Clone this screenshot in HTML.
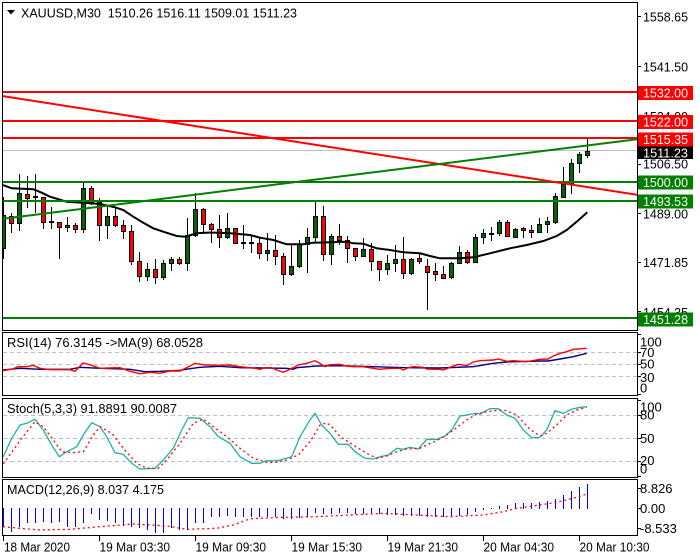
<!DOCTYPE html>
<html><head><meta charset="utf-8"><style>
html,body{margin:0;padding:0;background:#fff;}
svg{display:block;}
text{font-family:"Liberation Sans",Arial,sans-serif;font-size:13px;fill:#000;}
.w{fill:#fff;}
.g{fill:#006400;stroke:#000;stroke-width:1;}
.r{fill:#ff0000;stroke:#000;stroke-width:1;}
.d{fill:#000;stroke:#000;stroke-width:1;}
.wk line{stroke:#000;stroke-width:1;}
.mb rect{fill:#0000ff;}
</style></head><body>
<svg width="700" height="560" viewBox="0 0 700 560" xmlns="http://www.w3.org/2000/svg">
<defs>
<clipPath id="cm"><rect x="3" y="3" width="634" height="327"/></clipPath>
<clipPath id="cr"><rect x="3" y="333" width="634" height="62"/></clipPath>
<clipPath id="cs"><rect x="3" y="399" width="634" height="78"/></clipPath>
<clipPath id="cd"><rect x="3" y="480" width="634" height="55"/></clipPath>
</defs>
<rect width="700" height="560" fill="#fff"/>

<!-- MAIN PANEL -->
<g clip-path="url(#cm)">
<line x1="3" y1="150.5" x2="637" y2="150.5" stroke="#c0c0c0" stroke-width="1"/>
<g class="wk">
<line x1="3.5" y1="197" x2="3.5" y2="259"/><line x1="11.5" y1="213" x2="11.5" y2="233"/><line x1="19.5" y1="174" x2="19.5" y2="231"/><line x1="27.5" y1="176" x2="27.5" y2="208"/><line x1="35.5" y1="174" x2="35.5" y2="213"/><line x1="43.5" y1="197" x2="43.5" y2="229"/><line x1="51.5" y1="207" x2="51.5" y2="229"/><line x1="59.5" y1="222" x2="59.5" y2="259"/><line x1="67.5" y1="217" x2="67.5" y2="232"/><line x1="75.5" y1="223" x2="75.5" y2="233"/>
<line x1="83.5" y1="181" x2="83.5" y2="233"/><line x1="91.5" y1="186" x2="91.5" y2="205"/><line x1="99.5" y1="198" x2="99.5" y2="241"/><line x1="107.5" y1="205" x2="107.5" y2="239"/><line x1="115.5" y1="207" x2="115.5" y2="227"/><line x1="123.5" y1="220" x2="123.5" y2="239"/><line x1="131.5" y1="225" x2="131.5" y2="265"/><line x1="139.5" y1="252" x2="139.5" y2="282"/><line x1="147.5" y1="263" x2="147.5" y2="281"/><line x1="155.5" y1="259" x2="155.5" y2="284"/>
<line x1="163.5" y1="260" x2="163.5" y2="280"/><line x1="171.5" y1="257" x2="171.5" y2="271"/><line x1="179.5" y1="257" x2="179.5" y2="265"/><line x1="187.5" y1="218" x2="187.5" y2="271"/><line x1="195.5" y1="193" x2="195.5" y2="237"/><line x1="203.5" y1="208" x2="203.5" y2="233"/><line x1="211.5" y1="223" x2="211.5" y2="243"/><line x1="219.5" y1="215" x2="219.5" y2="248"/><line x1="227.5" y1="213" x2="227.5" y2="239"/><line x1="235.5" y1="228" x2="235.5" y2="244"/>
<line x1="243.5" y1="225" x2="243.5" y2="249"/><line x1="251.5" y1="235" x2="251.5" y2="253"/><line x1="259.5" y1="238" x2="259.5" y2="259"/><line x1="267.5" y1="233" x2="267.5" y2="261"/><line x1="275.5" y1="235" x2="275.5" y2="265"/><line x1="283.5" y1="253" x2="283.5" y2="285"/><line x1="291.5" y1="245" x2="291.5" y2="276"/><line x1="299.5" y1="240" x2="299.5" y2="268"/><line x1="307.5" y1="228" x2="307.5" y2="273"/><line x1="315.5" y1="202" x2="315.5" y2="243"/>
<line x1="323.5" y1="206" x2="323.5" y2="261"/><line x1="331.5" y1="234" x2="331.5" y2="265"/><line x1="339.5" y1="224" x2="339.5" y2="245"/><line x1="347.5" y1="236" x2="347.5" y2="263"/><line x1="355.5" y1="248" x2="355.5" y2="261"/><line x1="363.5" y1="238" x2="363.5" y2="257"/><line x1="371.5" y1="243" x2="371.5" y2="271"/><line x1="379.5" y1="261" x2="379.5" y2="281"/><line x1="387.5" y1="255" x2="387.5" y2="275"/><line x1="395.5" y1="245" x2="395.5" y2="272"/>
<line x1="403.5" y1="237" x2="403.5" y2="279"/><line x1="411.5" y1="258" x2="411.5" y2="275"/><line x1="419.5" y1="253" x2="419.5" y2="264"/><line x1="427.5" y1="259" x2="427.5" y2="310"/><line x1="435.5" y1="263" x2="435.5" y2="281"/><line x1="443.5" y1="266" x2="443.5" y2="278"/><line x1="451.5" y1="262" x2="451.5" y2="279"/><line x1="459.5" y1="246" x2="459.5" y2="264"/><line x1="467.5" y1="250" x2="467.5" y2="264"/><line x1="475.5" y1="234" x2="475.5" y2="262"/>
<line x1="483.5" y1="229" x2="483.5" y2="244"/><line x1="491.5" y1="227" x2="491.5" y2="241"/><line x1="499.5" y1="220" x2="499.5" y2="236"/><line x1="507.5" y1="220" x2="507.5" y2="237"/><line x1="515.5" y1="228" x2="515.5" y2="238"/><line x1="523.5" y1="227" x2="523.5" y2="238"/><line x1="531.5" y1="225" x2="531.5" y2="238"/><line x1="539.5" y1="218" x2="539.5" y2="233"/><line x1="547.5" y1="217" x2="547.5" y2="233"/><line x1="555.5" y1="193" x2="555.5" y2="224"/>
<line x1="563.5" y1="167" x2="563.5" y2="198"/><line x1="571.5" y1="159" x2="571.5" y2="194"/><line x1="579.5" y1="152" x2="579.5" y2="173"/><line x1="587.5" y1="137" x2="587.5" y2="158"/>
</g>
<rect x="1.5" y="215.5" width="4" height="33" class="g"/><rect x="9.5" y="216.5" width="4" height="7" class="r"/><rect x="17.5" y="193.5" width="4" height="30" class="g"/><rect x="25.5" y="194.5" width="4" height="4" class="r"/><rect x="33.5" y="196.5" width="4" height="1" class="d"/><rect x="41.5" y="197.5" width="4" height="25" class="r"/><rect x="49.5" y="221.5" width="4" height="1" class="d"/><rect x="57.5" y="222.5" width="4" height="5" class="r"/><rect x="65.5" y="225.5" width="4" height="2" class="g"/><rect x="73.5" y="225.5" width="4" height="4" class="r"/>
<rect x="81.5" y="188.5" width="4" height="41" class="g"/><rect x="89.5" y="188.5" width="4" height="14" class="r"/><rect x="97.5" y="202.5" width="4" height="23" class="r"/><rect x="105.5" y="216.5" width="4" height="9" class="g"/><rect x="113.5" y="216.5" width="4" height="9" class="r"/><rect x="121.5" y="225.5" width="4" height="6" class="r"/><rect x="129.5" y="231.5" width="4" height="30" class="r"/><rect x="137.5" y="261.5" width="4" height="15" class="r"/><rect x="145.5" y="269.5" width="4" height="7" class="g"/><rect x="153.5" y="269.5" width="4" height="8" class="r"/>
<rect x="161.5" y="263.5" width="4" height="14" class="g"/><rect x="169.5" y="259.5" width="4" height="4" class="g"/><rect x="177.5" y="259.5" width="4" height="4" class="r"/><rect x="185.5" y="235.5" width="4" height="28" class="g"/><rect x="193.5" y="209.5" width="4" height="26" class="g"/><rect x="201.5" y="209.5" width="4" height="15" class="r"/><rect x="209.5" y="224.5" width="4" height="5" class="r"/><rect x="217.5" y="229.5" width="4" height="8" class="r"/><rect x="225.5" y="228.5" width="4" height="9" class="g"/><rect x="233.5" y="228.5" width="4" height="15" class="r"/>
<rect x="241.5" y="242.5" width="4" height="1" class="d"/><rect x="249.5" y="242.5" width="4" height="1" class="d"/><rect x="257.5" y="243.5" width="4" height="10" class="r"/><rect x="265.5" y="250.5" width="4" height="3" class="g"/><rect x="273.5" y="250.5" width="4" height="6" class="r"/><rect x="281.5" y="256.5" width="4" height="18" class="r"/><rect x="289.5" y="266.5" width="4" height="8" class="g"/><rect x="297.5" y="244.5" width="4" height="22" class="g"/><rect x="305.5" y="237.5" width="4" height="7" class="g"/><rect x="313.5" y="216.5" width="4" height="21" class="g"/>
<rect x="321.5" y="216.5" width="4" height="38" class="r"/><rect x="329.5" y="236.5" width="4" height="18" class="g"/><rect x="337.5" y="236.5" width="4" height="4" class="r"/><rect x="345.5" y="240.5" width="4" height="8" class="r"/><rect x="353.5" y="248.5" width="4" height="8" class="r"/><rect x="361.5" y="249.5" width="4" height="7" class="g"/><rect x="369.5" y="249.5" width="4" height="12" class="r"/><rect x="377.5" y="261.5" width="4" height="8" class="r"/><rect x="385.5" y="263.5" width="4" height="6" class="g"/><rect x="393.5" y="259.5" width="4" height="4" class="g"/>
<rect x="401.5" y="259.5" width="4" height="14" class="r"/><rect x="409.5" y="259.5" width="4" height="14" class="g"/><rect x="417.5" y="258.5" width="4" height="3" class="r"/><rect x="425.5" y="266.5" width="4" height="6" class="r"/><rect x="433.5" y="271.5" width="4" height="3" class="r"/><rect x="441.5" y="274.5" width="4" height="4" class="r"/><rect x="449.5" y="263.5" width="4" height="14" class="g"/><rect x="457.5" y="252.5" width="4" height="11" class="g"/><rect x="465.5" y="252.5" width="4" height="10" class="r"/><rect x="473.5" y="237.5" width="4" height="25" class="g"/>
<rect x="481.5" y="233.5" width="4" height="4" class="g"/><rect x="489.5" y="233.5" width="4" height="1" class="d"/><rect x="497.5" y="222.5" width="4" height="11" class="g"/><rect x="505.5" y="222.5" width="4" height="14" class="r"/><rect x="513.5" y="229.5" width="4" height="8" class="g"/><rect x="521.5" y="228.5" width="4" height="2" class="r"/><rect x="529.5" y="230.5" width="4" height="2" class="r"/><rect x="537.5" y="224.5" width="4" height="8" class="g"/><rect x="545.5" y="221.5" width="4" height="3" class="g"/><rect x="553.5" y="196.5" width="4" height="26" class="g"/>
<rect x="561.5" y="184.5" width="4" height="13" class="g"/><rect x="569.5" y="163.5" width="4" height="21" class="g"/><rect x="577.5" y="154.5" width="4" height="9" class="g"/><rect x="585.5" y="151.5" width="4" height="4" class="g"/>

<!-- MA -->
<polyline fill="none" stroke="#000" stroke-width="2" points="3,185 11.7,188.3 33.3,189.3 41.7,192.7 50,196.7 66.7,201.7 83.3,202.7 100,204 115,207.3 123.3,210 133.3,216.7 143.3,222.7 153.3,228.3 163.3,231.7 176.7,236 185,236.7 196.7,233.3 210,232.5 230,233.3 250,235 260,237.7 273.3,240 286.7,244.3 303.3,244.3 313.3,242.7 330,242.3 346.7,241.7 353.3,243.3 363.3,243.7 376.7,248.3 390,250 403.3,252.3 420,253.3 430,256 440,258.3 460,258.3 473.3,257.3 490,253.3 510,248.3 526.7,245 543.3,241 556.7,236 566.7,230 576.7,221.7 587.3,212.3"/>

<!-- horizontal lines -->
<rect x="3" y="91" width="634" height="2" fill="#ff0000"/>
<rect x="3" y="120" width="634" height="2" fill="#ff0000"/>
<rect x="3" y="137" width="634" height="2" fill="#ff0000"/>
<rect x="3" y="181" width="634" height="2" fill="#008000"/>
<rect x="3" y="200" width="634" height="2" fill="#008000"/>
<rect x="3" y="317" width="634" height="2" fill="#008000"/>
<!-- trend lines -->
<line x1="2" y1="96" x2="637" y2="194.8" stroke="#ff0000" stroke-width="2"/>
<line x1="3" y1="218.8" x2="637" y2="139.2" stroke="#008000" stroke-width="2"/>
</g>

<!-- header -->
<polygon points="7,10 15,10 11,14.5" fill="#000"/>
<text x="21" y="17.3" textLength="276" lengthAdjust="spacingAndGlyphs" style="white-space:pre">XAUUSD,M30  1510.26 1516.11 1509.01 1511.23</text>

<!-- RSI -->
<g clip-path="url(#cr)">
<g stroke="#c0c0c0" stroke-width="1" stroke-dasharray="4,3">
<line x1="3" y1="352.5" x2="637" y2="352.5"/><line x1="3" y1="364.5" x2="637" y2="364.5"/><line x1="3" y1="376.5" x2="637" y2="376.5"/>
</g>
<polyline fill="none" stroke="#000080" stroke-width="1.4" points="3,370 20,368.3 40,369.3 70,369.3 80,367.3 100,368.3 130,369.3 145,371.7 160,371.3 180,370.3 190,368.7 200,367.3 220,366.3 240,367.7 286.7,368.3 293.3,369.3 296.7,367.7 316.7,366 340,365.7 373.3,366.7 406.7,367.7 440,368 473.3,366.7 493.3,363.3 506.7,362 540,361 548.3,361 560,359 573.3,356.7 586.7,353.3"/>
<polyline fill="none" stroke="#ff0000" stroke-width="1.4" points="3,370.7 13,369 18,366.7 27,366.7 33,365.3 40,368.3 50,369.7 70,369.7 75,371.3 83,363 90,364.7 100,368.3 110,368 120,367.7 130,371.3 140,373.7 150,372.3 160,373.3 170,371 180,371 190,366 195,363.3 205,365 220,365.3 230,365 240,366.7 255,368.3 260,369.3 265,367.7 271.7,367.7 276.7,370 283.3,372.3 290,369.3 298.3,365 306.7,363.3 315,360.7 320,363.3 325,366.7 330,364.7 340,364.3 346.7,366 353.3,366.7 363.3,366.7 373.3,368.3 380,369.3 390,368.3 400,368.3 403.3,370 408.3,367.7 413.3,366.7 423.3,367.3 426.7,369 440,369.3 443.3,370 450,367.3 458.3,364.3 466.7,365.7 473.3,362 480,360.7 493.3,360 498.3,359 506.7,361.3 513.3,360.7 526.7,361.7 540,359.3 548.3,359 553.3,356 560,353.3 566.7,351.7 573.3,349.3 586.7,348.3"/>
</g>
<text x="7" y="347" textLength="196" lengthAdjust="spacingAndGlyphs">RSI(14) 76.3145 ->MA(9) 68.0528</text>

<!-- Stoch -->
<g clip-path="url(#cs)">
<g stroke="#c0c0c0" stroke-width="1" stroke-dasharray="4,3">
<line x1="3" y1="415.5" x2="637" y2="415.5"/><line x1="3" y1="438.5" x2="637" y2="438.5"/><line x1="3" y1="461.5" x2="637" y2="461.5"/>
</g>
<polyline fill="none" stroke="#20b2aa" stroke-width="1.3" points="3.3,456.7 11.7,438.3 20,425 26.7,423.3 35,419.3 43.3,430 51.7,445 59.3,456.7 66.7,451.7 76.7,446.7 83.3,435 91.7,422.7 100,426.7 106.7,436.7 115,452.7 123.3,454.3 131.7,463.3 140,469 155,468.3 163.3,460 173.3,448.3 181.7,430 188.3,417.7 200,418.3 210,426.7 218.3,436.7 230,443.3 240,456.7 251.7,463.3 260,463.3 266.7,460.7 273.3,461 280,460 291.7,456.7 300,436.7 310,420 315,413.3 321.7,425 330,433.3 338.3,444.3 348.3,444.3 355,451.7 365,458.3 373.3,459 380,456.7 388.3,455 396.7,448.3 403.3,449.3 410,447.3 418.3,449 426.7,439.3 436.7,439.3 445,436 451.7,430 460,416 466.7,415 475,413.3 480,414 490,408.7 498.3,408.7 506.7,415 515,418.3 523.3,430 531.7,437.7 540,437.3 546.7,430 555,410.7 563.3,413.3 571.7,409.3 578.3,407.7 586.7,406.7"/>
<polyline fill="none" stroke="#ff0000" stroke-width="1.3" stroke-dasharray="2,3" points="3.3,464 13.3,450 21.7,438.3 35,421.7 43.3,426.7 53.3,440 61.7,451.7 73.3,452.7 83.3,451.7 93.3,435 100,426.7 111.7,433.3 123.3,448.3 136.7,463.3 146.7,468.3 158.3,468.3 166.7,460 180,443.3 193.3,423.3 203.3,419 213.3,426.7 226.7,436.7 240,448.3 253.3,458.3 266.7,462.3 276.7,462.3 286.7,460 298.3,455 310,441.7 320,425 326.7,422.7 333.3,428.3 340,436.7 353.3,445 366.7,453.3 376.7,458.3 386.7,456 396.7,451.7 406.7,449 420,448.3 426.7,445 436.7,440.7 446.7,435 456.7,427.7 466.7,420 476.7,414 486.7,411.7 500,410 506.7,410.7 516.7,415 530,429.3 540,436 546.7,433.3 556.7,425 566.7,415 576.7,410 586.7,407.3"/>
</g>
<text x="7" y="413" textLength="170" lengthAdjust="spacingAndGlyphs">Stoch(5,3,3) 91.8891 90.0087</text>

<!-- MACD -->
<g clip-path="url(#cd)">
<g class="mb" shape-rendering="crispEdges">
<rect x="3" y="508" width="1" height="19"/><rect x="11" y="508" width="1" height="24"/><rect x="19" y="508" width="1" height="19"/><rect x="27" y="508" width="1" height="15"/><rect x="35" y="508" width="1" height="15"/><rect x="43" y="508" width="1" height="14"/><rect x="51" y="508" width="1" height="15"/><rect x="59" y="508" width="1" height="14"/><rect x="67" y="508" width="1" height="19"/><rect x="75" y="508" width="1" height="19"/>
<rect x="83" y="508" width="1" height="15"/><rect x="91" y="508" width="1" height="6"/><rect x="99" y="508" width="1" height="12"/><rect x="107" y="508" width="1" height="13"/><rect x="115" y="508" width="1" height="15"/><rect x="123" y="508" width="1" height="18"/><rect x="131" y="508" width="1" height="19"/><rect x="139" y="508" width="1" height="20"/><rect x="147" y="508" width="1" height="22"/><rect x="155" y="508" width="1" height="25"/>
<rect x="163" y="508" width="1" height="25"/><rect x="171" y="508" width="1" height="20"/><rect x="179" y="508" width="1" height="22"/><rect x="187" y="508" width="1" height="22"/><rect x="195" y="508" width="1" height="15"/><rect x="203" y="508" width="1" height="15"/><rect x="211" y="508" width="1" height="9"/><rect x="219" y="508" width="1" height="9"/><rect x="227" y="508" width="1" height="8"/><rect x="235" y="508" width="1" height="9"/>
<rect x="243" y="508" width="1" height="9"/><rect x="251" y="508" width="1" height="9"/><rect x="259" y="508" width="1" height="9"/><rect x="267" y="508" width="1" height="9"/><rect x="275" y="508" width="1" height="9"/><rect x="283" y="508" width="1" height="11"/><rect x="291" y="508" width="1" height="11"/><rect x="299" y="508" width="1" height="10"/><rect x="307" y="508" width="1" height="9"/><rect x="315" y="508" width="1" height="5"/>
<rect x="323" y="508" width="1" height="6"/><rect x="331" y="508" width="1" height="6"/><rect x="339" y="508" width="1" height="5"/><rect x="347" y="508" width="1" height="5"/><rect x="355" y="508" width="1" height="6"/><rect x="363" y="508" width="1" height="6"/><rect x="371" y="508" width="1" height="5"/><rect x="379" y="508" width="1" height="6"/><rect x="387" y="508" width="1" height="7"/><rect x="395" y="508" width="1" height="7"/>
<rect x="403" y="508" width="1" height="8"/><rect x="411" y="508" width="1" height="8"/><rect x="419" y="508" width="1" height="8"/><rect x="427" y="508" width="1" height="9"/><rect x="435" y="508" width="1" height="9"/><rect x="443" y="508" width="1" height="9"/><rect x="451" y="508" width="1" height="9"/><rect x="459" y="508" width="1" height="8"/><rect x="467" y="508" width="1" height="7"/><rect x="475" y="508" width="1" height="4"/>
<rect x="483" y="508" width="1" height="2"/><rect x="491" y="508" width="1" height="1"/><rect x="499" y="506" width="1" height="3"/><rect x="507" y="505" width="1" height="4"/><rect x="515" y="503" width="1" height="6"/><rect x="523" y="503" width="1" height="6"/><rect x="531" y="503" width="1" height="6"/><rect x="539" y="502" width="1" height="7"/><rect x="547" y="501" width="1" height="8"/><rect x="555" y="499" width="1" height="10"/>
<rect x="563" y="495" width="1" height="14"/><rect x="571" y="491" width="1" height="18"/><rect x="579" y="487" width="1" height="22"/><rect x="587" y="484" width="1" height="25"/>
</g>
<polyline fill="none" stroke="#ff0000" stroke-width="1.3" stroke-dasharray="2,3" points="3,526.7 20,528.3 40,530 70,529.3 100,526.7 133.3,524 166.7,526 186.7,529.3 216.7,528.3 233.3,525 250,518.8 283.3,517.3 316.7,516.7 350,515 383.3,513.3 416.7,515 450,516.7 483.3,515 503.3,511.7 516.7,508.3 533.3,506 550,503.3 563.3,500.7 576.7,497.3 586.7,494"/>
</g>
<text x="7" y="494" textLength="157" lengthAdjust="spacingAndGlyphs">MACD(12,26,9) 8.037 4.175</text>

<!-- frames -->
<g fill="none" stroke="#000" stroke-width="1">
<rect x="2.5" y="2.5" width="635" height="328"/>
<rect x="2.5" y="332.5" width="635" height="63"/>
<rect x="2.5" y="398.5" width="635" height="79"/>
<rect x="2.5" y="479.5" width="635" height="56"/>
</g>

<!-- right axis ticks -->
<g stroke="#000" stroke-width="1">
<line x1="637" y1="16.5" x2="641" y2="16.5"/><line x1="637" y1="66.5" x2="641" y2="66.5"/><line x1="637" y1="115.5" x2="641" y2="115.5"/><line x1="637" y1="164.5" x2="641" y2="164.5"/><line x1="637" y1="213.5" x2="641" y2="213.5"/><line x1="637" y1="262.5" x2="641" y2="262.5"/><line x1="637" y1="311.5" x2="641" y2="311.5"/>
<line x1="637" y1="334.5" x2="641" y2="334.5"/><line x1="637" y1="352.5" x2="641" y2="352.5"/><line x1="637" y1="364.5" x2="641" y2="364.5"/><line x1="637" y1="376.5" x2="641" y2="376.5"/><line x1="637" y1="394.5" x2="641" y2="394.5"/>
<line x1="637" y1="400.5" x2="641" y2="400.5"/><line x1="637" y1="415.5" x2="641" y2="415.5"/><line x1="637" y1="438.5" x2="641" y2="438.5"/><line x1="637" y1="461.5" x2="641" y2="461.5"/><line x1="637" y1="476.5" x2="641" y2="476.5"/>
<line x1="637" y1="488.5" x2="641" y2="488.5"/><line x1="637" y1="508.5" x2="641" y2="508.5"/><line x1="637" y1="528.5" x2="641" y2="528.5"/>
<line x1="3.5" y1="536" x2="3.5" y2="541"/><line x1="99.5" y1="536" x2="99.5" y2="541"/><line x1="195.5" y1="536" x2="195.5" y2="541"/><line x1="291.5" y1="536" x2="291.5" y2="541"/><line x1="387.5" y1="536" x2="387.5" y2="541"/><line x1="483.5" y1="536" x2="483.5" y2="541"/><line x1="579.5" y1="536" x2="579.5" y2="541"/>
</g>

<!-- price labels -->
<text x="643" y="21.5" textLength="45" lengthAdjust="spacingAndGlyphs">1558.65</text>
<text x="643" y="71.5" textLength="45" lengthAdjust="spacingAndGlyphs">1541.50</text>
<text x="643" y="121" textLength="45" lengthAdjust="spacingAndGlyphs">1524.00</text>
<text x="643" y="168.5" textLength="45" lengthAdjust="spacingAndGlyphs">1506.50</text>
<text x="643" y="218.5" textLength="45" lengthAdjust="spacingAndGlyphs">1489.00</text>
<text x="643" y="267" textLength="45" lengthAdjust="spacingAndGlyphs">1471.85</text>
<text x="643" y="317" textLength="45" lengthAdjust="spacingAndGlyphs">1454.35</text>

<!-- price boxes -->
<rect x="638" y="86" width="55" height="14" fill="#ff0000"/>
<text class="w" x="643" y="97.5" textLength="45" lengthAdjust="spacingAndGlyphs">1532.00</text>
<rect x="638" y="115" width="55" height="14" fill="#ff0000"/>
<text class="w" x="643" y="126.5" textLength="45" lengthAdjust="spacingAndGlyphs">1522.00</text>
<rect x="638" y="132.5" width="55" height="14" fill="#ff0000"/>
<text class="w" x="643" y="144" textLength="45" lengthAdjust="spacingAndGlyphs">1515.35</text>
<rect x="638" y="146.5" width="55" height="12.5" fill="#000"/>
<text class="w" x="643" y="157.5" textLength="45" lengthAdjust="spacingAndGlyphs">1511.23</text>
<rect x="638" y="175.5" width="55" height="14" fill="#008000"/>
<text class="w" x="643" y="187" textLength="45" lengthAdjust="spacingAndGlyphs">1500.00</text>
<rect x="638" y="194.5" width="55" height="14" fill="#008000"/>
<text class="w" x="643" y="206" textLength="45" lengthAdjust="spacingAndGlyphs">1493.53</text>
<rect x="638" y="312.5" width="55" height="14" fill="#008000"/>
<text class="w" x="643" y="324" textLength="45" lengthAdjust="spacingAndGlyphs">1451.28</text>

<!-- sub-panel scale labels -->
<text x="640" y="346.5">100</text>
<text x="640" y="357">70</text>
<text x="640" y="368.5">50</text>
<text x="640" y="382">30</text>
<text x="640" y="392.5">0</text>
<text x="640" y="411.5">100</text>
<text x="640" y="419.5">80</text>
<text x="640" y="443">50</text>
<text x="640" y="465">20</text>
<text x="640" y="473.5">0</text>
<text x="640" y="493">8.826</text>
<text x="640" y="513">0.00</text>
<text x="640" y="533">-8.533</text>

<!-- time labels -->
<text x="4" y="551.5" textLength="66" lengthAdjust="spacingAndGlyphs">18 Mar 2020</text>
<text x="99.5" y="551.5" textLength="70.5" lengthAdjust="spacingAndGlyphs">19 Mar 03:30</text>
<text x="195.5" y="551.5" textLength="70.5" lengthAdjust="spacingAndGlyphs">19 Mar 09:30</text>
<text x="291.5" y="551.5" textLength="70.5" lengthAdjust="spacingAndGlyphs">19 Mar 15:30</text>
<text x="387.5" y="551.5" textLength="70.5" lengthAdjust="spacingAndGlyphs">19 Mar 21:30</text>
<text x="483.5" y="551.5" textLength="70.5" lengthAdjust="spacingAndGlyphs">20 Mar 04:30</text>
<text x="579.5" y="551.5" textLength="70" lengthAdjust="spacingAndGlyphs">20 Mar 10:30</text>
</svg>
</body></html>
